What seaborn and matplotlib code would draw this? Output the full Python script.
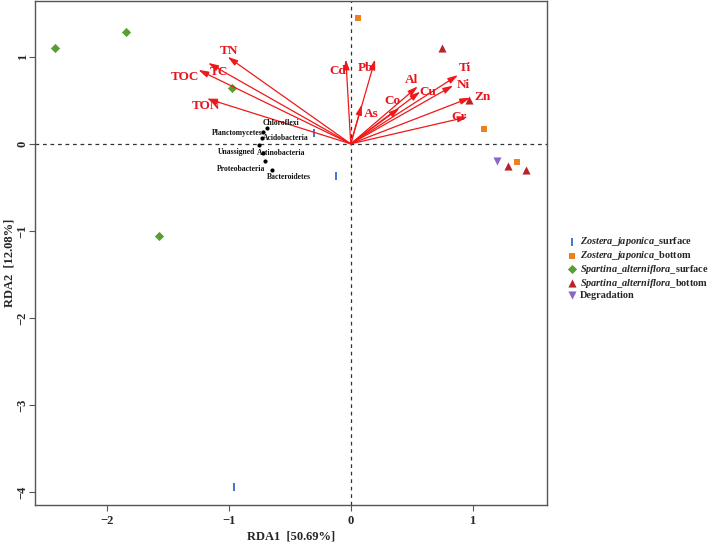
import numpy as np
import pandas as pd
import matplotlib
matplotlib.use("Agg")
import matplotlib.pyplot as plt
import seaborn as sns
from matplotlib.path import Path

# ---- data ----
groups = ["Zostera_japonica_surface", "Zostera_japonica_bottom",
          "Spartina_alterniflora_surface", "Spartina_alterniflora_bottom", "Degradation"]
zj_surface_x = [-0.30, -0.12, -0.96]
zj_surface_y = [0.12, -0.37, -3.94]
zj_bottom_x = [0.06, 1.09, 1.36]
zj_bottom_y = [1.44, 0.17, -0.21]
sa_surface_x = [-2.43, -1.84, -0.97, -1.57]
sa_surface_y = [1.10, 1.29, 0.64, -1.06]
sa_bottom_x = [0.75, 0.97, 1.29, 1.44]
sa_bottom_y = [1.10, 0.50, -0.25, -0.30]
deg_x = [1.20]
deg_y = [-0.20]

env_names = ["TN", "TC", "TOC", "TON", "Cd", "Pb", "As", "Co", "Al", "Cu", "Ti", "Ni", "Zn", "Cr"]
env_x = [-1.01, -1.17, -1.25, -1.18, -0.04, 0.20, 0.09, 0.40, 0.55, 0.57, 0.88, 0.84, 0.98, 0.96]
env_y = [1.00, 0.93, 0.85, 0.52, 0.97, 0.97, 0.45, 0.41, 0.66, 0.60, 0.79, 0.67, 0.53, 0.31]
env_lab_x = [-1.00, -1.08, -1.36, -1.19, -0.11, 0.12, 0.17, 0.34, 0.50, 0.63, 0.94, 0.92, 1.08, 0.89]
env_lab_y = [1.07, 0.83, 0.77, 0.44, 0.84, 0.87, 0.34, 0.49, 0.73, 0.60, 0.87, 0.68, 0.54, 0.31]

taxa = ["Chloroflexi", "Planctomycetes", "Acidobacteria", "Unassigned",
        "Actinobacteria", "Proteobacteria", "Bacteroidetes"]
taxa_x = [-0.69, -0.72, -0.73, -0.75, -0.72, -0.70, -0.65]
taxa_y = [0.18, 0.14, 0.07, -0.01, -0.10, -0.20, -0.30]
taxa_lab_x = [-0.57, -0.93, -0.53, -0.94, -0.57, -0.90, -0.51]
taxa_lab_y = [0.24, 0.12, 0.07, -0.09, -0.10, -0.29, -0.38]

xticks = [-2, -1, 0, 1]
yticks = [-4, -3, -2, -1, 0, 1]

# ---- build table ----
rows = []
for g, xs, ys in zip(groups,
                     [zj_surface_x, zj_bottom_x, sa_surface_x, sa_bottom_x, deg_x],
                     [zj_surface_y, zj_bottom_y, sa_surface_y, sa_bottom_y, deg_y]):
    for a, b in zip(xs, ys):
        rows.append({"RDA1": a, "RDA2": b, "group": g})
df = pd.DataFrame(rows)

sns.set_theme(style="white")
plt.rcParams["font.family"] = ["Liberation Serif", "DejaVu Serif"]
plt.rcParams["font.weight"] = "bold"
plt.rcParams["mathtext.fontset"] = "custom"
plt.rcParams["mathtext.it"] = "Liberation Serif:italic:bold"
plt.rcParams["mathtext.rm"] = "Liberation Serif:bold"

fig = plt.figure(figsize=(7.09, 5.42), dpi=100)
ax = fig.add_axes([0.0494, 0.068, 0.7221, 0.930])

bar_marker = Path([(-0.18, -1), (0.18, -1), (0.18, 1), (-0.18, 1), (-0.18, -1)],
                  [Path.MOVETO, Path.LINETO, Path.LINETO, Path.LINETO, Path.CLOSEPOLY])
palette = {groups[0]: "#4a78c8", groups[1]: "#ee8020", groups[2]: "#55a030",
           groups[3]: "#b8232a", groups[4]: "#8a66c8"}
markers = {groups[0]: bar_marker, groups[1]: "s", groups[2]: "D",
           groups[3]: "^", groups[4]: "v"}
sizes = {groups[0]: 30, groups[1]: 20, groups[2]: 22, groups[3]: 34, groups[4]: 34}

ax.axhline(0, color="#333333", lw=0.9, ls=(0, (3, 3)), zorder=1)
ax.axvline(0, color="#333333", lw=0.9, ls=(0, (3, 3)), zorder=1)

for g in groups:
    sub = df[df["group"] == g]
    sns.scatterplot(data=sub, x="RDA1", y="RDA2", color=palette[g], marker=markers[g],
                    s=sizes[g], linewidth=0, ax=ax, label=g, zorder=3)

# environmental arrows
for name, ex, ey, lx, ly in zip(env_names, env_x, env_y, env_lab_x, env_lab_y):
    ax.annotate("", xy=(ex, ey), xytext=(0, 0),
                arrowprops=dict(arrowstyle="-|>,head_length=0.5,head_width=0.15",
                                color="#f01818", lw=0.9, shrinkA=0, shrinkB=0), zorder=4)
    ax.text(lx, ly, name, color="#e8141c", fontsize=9.5, fontweight="bold",
            ha="center", va="center", zorder=5)

# taxa
tdf = pd.DataFrame({"x": taxa_x, "y": taxa_y, "taxon": taxa})
sns.scatterplot(data=tdf, x="x", y="y", color="black", s=9, linewidth=0, ax=ax,
                zorder=4, legend=False)
for t, lx, ly in zip(taxa, taxa_lab_x, taxa_lab_y):
    ax.text(lx, ly, t, fontsize=5.5, fontweight="bold", color="#111111",
            ha="center", va="center", zorder=5)

ax.set_xlim(-2.59, 1.61)
ax.set_ylim(-4.15, 1.64)
ax.set_xticks(xticks)
ax.set_yticks(yticks)
ax.set_xticklabels(["\u22122", "\u22121", "0", "1"], fontsize=9, fontweight="bold")
ax.set_yticklabels(["\u22124", "\u22123", "\u22122", "\u22121", "0", "1"], fontsize=9,
                   fontweight="bold", rotation=90, va="center")
ax.tick_params(axis="both", which="both", length=4, width=0.8, color="#555555",
               bottom=True, left=True, pad=3)
ax.tick_params(axis="y", pad=0.5)
ax.set_xlabel("RDA1  [50.69%]", fontsize=9, fontweight="bold")
ax.set_ylabel("RDA2  [12.08%]", fontsize=9, fontweight="bold")
ax.xaxis.set_label_coords(0.5, -0.0615)
ax.xaxis.label.set_va("center")
ax.yaxis.set_label_coords(-0.050, 0.48)
ax.yaxis.label.set_va("center")
for sp in ax.spines.values():
    sp.set_color("#555555")
    sp.set_linewidth(1.0)

handles, labels = ax.get_legend_handles_labels()
new_labels = [r"$\it{Zostera\_japonica}$_surface", r"$\it{Zostera\_japonica}$_bottom",
              r"$\it{Spartina\_alterniflora}$_surface", r"$\it{Spartina\_alterniflora}$_bottom",
              "Degradation"]
leg = ax.legend(handles, new_labels, loc="upper left", bbox_to_anchor=(1.038, 0.535),
                frameon=False, fontsize=7.4, handletextpad=0.35, labelspacing=0.08,
                borderaxespad=0, handlelength=1.0, borderpad=0)
for txt in leg.get_texts():
    txt.set_fontweight("bold")

fig.savefig("out.png", dpi=100)
